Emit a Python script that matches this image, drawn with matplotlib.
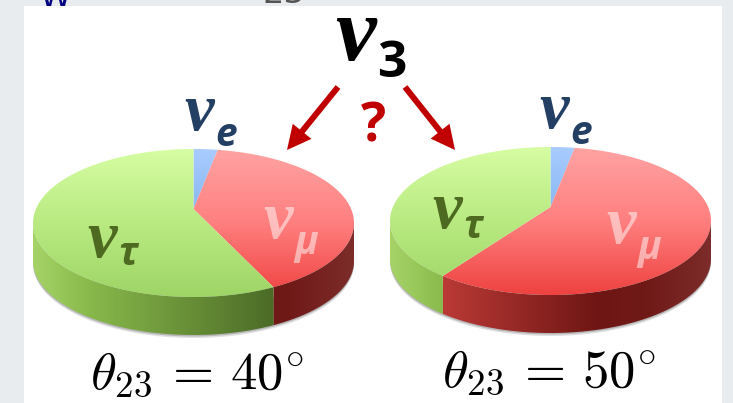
import numpy as np
import matplotlib
matplotlib.use("Agg")
import matplotlib.pyplot as plt
from matplotlib.colors import LinearSegmentedColormap as LSC
from matplotlib.patches import Polygon, Rectangle

plt.rcParams['mathtext.fontset'] = 'cm'

flavours = ['e', 'mu', 'tau']
shares_40 = [2.4, 39.3, 58.3]
shares_50 = [2.4, 59.3, 38.3]
title_40 = r'$\theta_{23}\,=\,40^{\circ}$'
title_50 = r'$\theta_{23}\,=\,50^{\circ}$'

W, H = 733, 403
fig = plt.figure(figsize=(W / 100, H / 100), dpi=100)
ax = fig.add_axes([0, 0, 1, 1])
ax.set_xlim(0, W)
ax.set_ylim(H, 0)
ax.axis('off')
fig.patch.set_facecolor('#e9ecef')

ax.text(56, 7, 'W', color='#000080', fontsize=23, ha='center', va='baseline', zorder=0)
ax.text(284, 3, '23', color='#555555', fontsize=24, ha='center', va='baseline', zorder=0)
ax.add_patch(Rectangle((24, 6), 698, 397, fc='white', ec='none', zorder=1))

top_maps = {
    'e': LSC.from_list('e', ['#a9ccff', '#5a9be0']),
    'mu': LSC.from_list('mu', ['#ffa3a3', '#ff7f7f', '#ee4240']),
    'tau': LSC.from_list('tau', ['#d6fda2', '#b9ea82', '#9ed566']),
}
side_maps = {
    'mu': LSC.from_list('smu', [(0, '#c8423e'), (0.16, '#bb3a36'), (0.65, '#6e1614'),
                                (0.8, '#701a18'), (1, '#7c2c2a')]),
    'tau': LSC.from_list('stau', [(0, '#a6d368'), (0.16, '#8abb4c'), (0.75, '#4b6b26'), (1, '#4b6b26')]),
    'e': LSC.from_list('se', ['#3a6ea5', '#3a6ea5']),
}


def gradient(cmap, extent, horizontal, clip):
    g = np.linspace(0, 1, 256)
    g = g[None, :] if horizontal else g[:, None]
    im = ax.imshow(g, cmap=cmap, extent=extent, aspect='auto', zorder=3, interpolation='bilinear')
    patch = Polygon(clip, closed=True, fc='none', ec='none', transform=ax.transData)
    ax.add_patch(patch)
    im.set_clip_path(patch)


def pie3d(cx, cy, apex_y, shares):
    a, b, depth = 160.5, 74, 38
    tt = np.radians(np.linspace(90, 270, 200))
    for off, alpha in [(3, 0.18), (1.5, 0.3)]:
        xs = cx + a * np.sin(tt)
        ys = cy - b * np.cos(tt) + depth + off
        ax.fill(np.r_[xs, xs[::-1]], np.r_[ys, ys[::-1] - 30], color='#555555',
                alpha=alpha, lw=0, zorder=2)
    angle = 0.0
    for name, share in zip(flavours, shares):
        t0, t1 = angle, angle + share * 3.6
        angle = t1
        t = np.radians(np.linspace(t0, t1, 240))
        xs = cx + a * np.sin(t)
        ys = cy - b * np.cos(t)
        poly = np.r_[[[cx, apex_y]], np.c_[xs, ys]]
        gradient(top_maps[name], (cx - a, cx + a, cy + b, cy - b), False, poly)
        vis = (np.degrees(t) >= 90) & (np.degrees(t) <= 270)
        if vis.sum() > 1:
            sx, sy = xs[vis], ys[vis]
            side = np.r_[np.c_[sx, sy], np.c_[sx[::-1], sy[::-1] + depth]]
            gradient(side_maps[name], (cx - a, cx + a, cy + b + depth, cy - b), True, side)


pie3d(193.5, 223, 209, shares_40)
pie3d(550.5, 221, 207, shares_50)

NU = dict(family='Liberation Serif', style='italic', weight='bold', zorder=5)
SUB = dict(family='Open Sans', style='italic', weight='bold', zorder=5)


def label(x, y, sub, sy, color, size=48, subsize=28, alpha=1.0, subfont=SUB):
    ax.text(x, y, '\u03bd', color=color, fontsize=size, ha='right', va='baseline', alpha=alpha, **NU)
    ax.text(x + 1, sy, sub, color=color, fontsize=subsize, ha='left', va='baseline', alpha=alpha, **subfont)


NAVY, DGREEN, PINK = '#233f63', '#4d6a20', '#ffffff'
label(214, 130, 'e', 146, NAVY)
label(569, 128, 'e', 144, NAVY)
label(117, 257, '\u03c4', 265, DGREEN)
label(462, 228, '\u03c4', 238, DGREEN)
label(293, 238, '\u03bc', 254, PINK, alpha=0.5)
label(636, 243, '\u03bc', 259, PINK, alpha=0.5)
label(376, 60, '3', 77, 'black', size=66, subsize=37,
      subfont=dict(family='Open Sans', weight='bold', zorder=5))

red = '#c00000'
ax.arrow(338, 87, -51, 63, width=6, head_width=24, head_length=24, length_includes_head=True,
         fc=red, ec='none', zorder=5)
ax.arrow(405, 87, 50, 63, width=6, head_width=24, head_length=24, length_includes_head=True,
         fc=red, ec='none', zorder=5)
ax.text(373, 141, '?', color=red, fontsize=38, fontweight='bold', family='Open Sans',
        ha='center', va='baseline', zorder=5)

ax.text(197, 388, title_40, color='black', fontsize=38, ha='center', va='baseline', zorder=5)
ax.text(549, 386, title_50, color='black', fontsize=38, ha='center', va='baseline', zorder=5)

ax.set_xlim(0, W)
ax.set_ylim(H, 0)
fig.savefig('out.png', dpi=100, facecolor=fig.get_facecolor())
